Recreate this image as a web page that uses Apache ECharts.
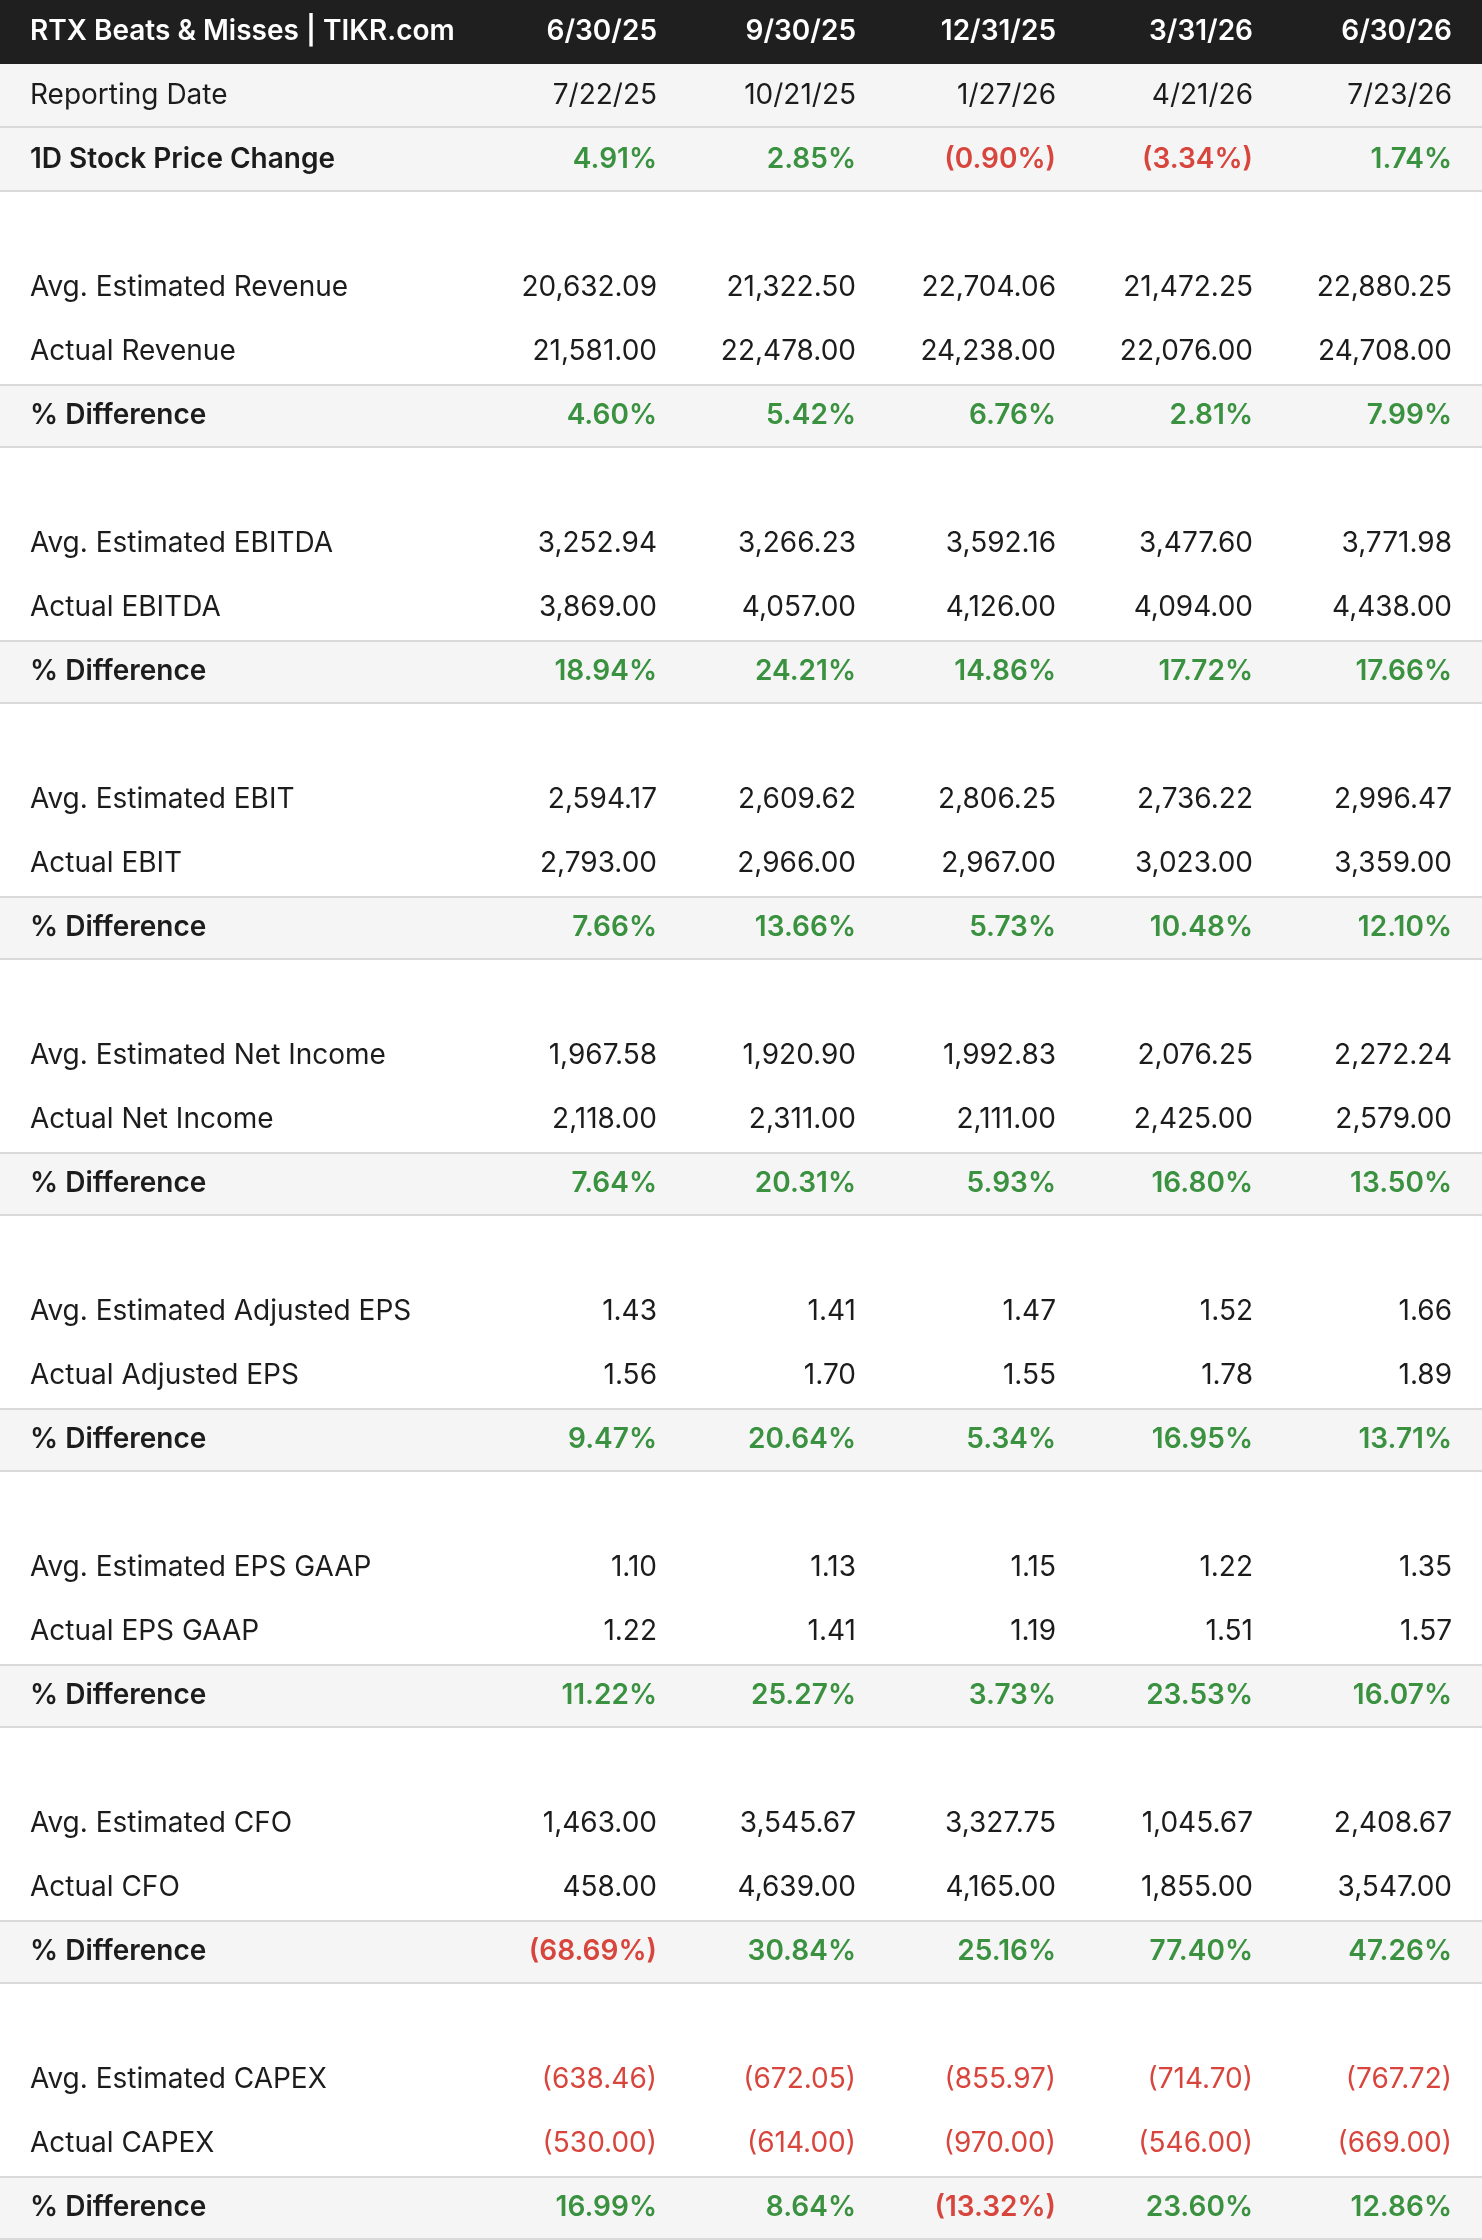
<!DOCTYPE html>
<html><head><meta charset="utf-8">
<script src="https://cdn.jsdelivr.net/npm/echarts@6/dist/echarts.min.js"></script>
<style>html,body{margin:0;padding:0;background:#fff}#c{width:1482px;height:2240px}</style>
</head><body><div id="c"></div>
<script>
const title = 'RTX Beats & Misses | TIKR.com';
const periods = ['6/30/25','9/30/25','12/31/25','3/31/26','6/30/26'];
const reportDates = ['7/22/25','10/21/25','1/27/26','4/21/26','7/23/26'];
const priceChange = [4.91, 2.85, -0.90, -3.34, 1.74];
const metricNames = ['Revenue','EBITDA','EBIT','Net Income','Adjusted EPS','EPS GAAP','CFO','CAPEX'];
const estRevenue = [20632.09, 21322.50, 22704.06, 21472.25, 22880.25];
const actRevenue = [21581.00, 22478.00, 24238.00, 22076.00, 24708.00];
const diffRevenue = [4.60, 5.42, 6.76, 2.81, 7.99];
const estEBITDA = [3252.94, 3266.23, 3592.16, 3477.60, 3771.98];
const actEBITDA = [3869.00, 4057.00, 4126.00, 4094.00, 4438.00];
const diffEBITDA = [18.94, 24.21, 14.86, 17.72, 17.66];
const estEBIT = [2594.17, 2609.62, 2806.25, 2736.22, 2996.47];
const actEBIT = [2793.00, 2966.00, 2967.00, 3023.00, 3359.00];
const diffEBIT = [7.66, 13.66, 5.73, 10.48, 12.10];
const estNetIncome = [1967.58, 1920.90, 1992.83, 2076.25, 2272.24];
const actNetIncome = [2118.00, 2311.00, 2111.00, 2425.00, 2579.00];
const diffNetIncome = [7.64, 20.31, 5.93, 16.80, 13.50];
const estAdjEPS = [1.43, 1.41, 1.47, 1.52, 1.66];
const actAdjEPS = [1.56, 1.70, 1.55, 1.78, 1.89];
const diffAdjEPS = [9.47, 20.64, 5.34, 16.95, 13.71];
const estGaapEPS = [1.10, 1.13, 1.15, 1.22, 1.35];
const actGaapEPS = [1.22, 1.41, 1.19, 1.51, 1.57];
const diffGaapEPS = [11.22, 25.27, 3.73, 23.53, 16.07];
const estCFO = [1463.00, 3545.67, 3327.75, 1045.67, 2408.67];
const actCFO = [458.00, 4639.00, 4165.00, 1855.00, 3547.00];
const diffCFO = [-68.69, 30.84, 25.16, 77.40, 47.26];
const estCAPEX = [-638.46, -672.05, -855.97, -714.70, -767.72];
const actCAPEX = [-530.00, -614.00, -970.00, -546.00, -669.00];
const diffCAPEX = [16.99, 8.64, -13.32, 23.60, 12.86];

const metricSets = [
  [estRevenue, actRevenue, diffRevenue], [estEBITDA, actEBITDA, diffEBITDA],
  [estEBIT, actEBIT, diffEBIT], [estNetIncome, actNetIncome, diffNetIncome],
  [estAdjEPS, actAdjEPS, diffAdjEPS], [estGaapEPS, actGaapEPS, diffGaapEPS],
  [estCFO, actCFO, diffCFO], [estCAPEX, actCAPEX, diffCAPEX]
];

const GREEN = '#3a913f', RED = '#d8453d', INK = '#1c1c1c';
function fmtNum(v){ const s = Math.abs(v).toLocaleString('en-US',{minimumFractionDigits:2,maximumFractionDigits:2}); return v<0?'('+s+')':s; }
function fmtPct(v){ const s = Math.abs(v).toFixed(2)+'%'; return v<0?'('+s+')':s; }

// Build rows: kind = header | gray | plain | blank
const rows = [];
rows.push({kind:'header', label:title, cells:periods.map(p=>({t:p,c:'#fff'})), bold:true});
rows.push({kind:'gray', label:'Reporting Date', cells:reportDates.map(d=>({t:d,c:INK})), bold:false});
rows.push({kind:'gray', label:'1D Stock Price Change', cells:priceChange.map(v=>({t:fmtPct(v),c:v<0?RED:GREEN})), bold:true});
metricNames.forEach((n,i)=>{
  const [e,a,d] = metricSets[i];
  rows.push({kind:'blank', label:'', cells:[], bold:false});
  rows.push({kind:'plain', label:'Avg. Estimated '+n, cells:e.map(v=>({t:fmtNum(v),c:v<0?RED:INK})), bold:false});
  rows.push({kind:'plain', label:'Actual '+n, cells:a.map(v=>({t:fmtNum(v),c:v<0?RED:INK})), bold:false});
  rows.push({kind:'gray', label:'% Difference', cells:d.map(v=>({t:fmtPct(v),c:v<0?RED:GREEN})), bold:true});
});

// layout constants (not data)
const LABEL_X = 30, COL_X = [657, 856, 1056, 1253, 1452];
const rowCats = rows.map((r,i)=>'r'+i);
const bgData = rows.map((r,i)=>[i]);
const textData = [];
rows.forEach((r,i)=>{
  if(r.label) textData.push({value:[LABEL_X, i], t:r.label, c:r.kind==='header'?'#fff':INK, b:r.bold, a:'left'});
  r.cells.forEach((c,j)=>textData.push({value:[COL_X[j], i], t:c.t, c:c.c, b:r.bold, a:'right'}));
});

const FONT = 'Inter, "Noto Sans", sans-serif';
const chart = echarts.init(document.getElementById('c'));
chart.setOption({
  animation:false,
  grid:{left:0,right:0,top:0,bottom:0},
  xAxis:{type:'value',min:0,max:1482,show:false},
  yAxis:{type:'category',data:rowCats,inverse:true,show:false},
  series:[
    {type:'custom', data:bgData, encode:{y:0}, renderItem:function(params, api){
      const i = api.value(0); const r = rows[i];
      const top = api.coord([0,i]); const h = api.size([0,1])[1];
      const y0 = top[1]-h/2, w = params.coordSys.width;
      const ch = [];
      if(r.kind==='header') ch.push({type:'rect',shape:{x:0,y:y0,width:w,height:h},style:{fill:'#1f1f1f'}});
      else if(r.kind==='gray'){
        ch.push({type:'rect',shape:{x:0,y:y0,width:w,height:h},style:{fill:'#f5f5f5'}});
        ch.push({type:'line',shape:{x1:0,y1:y0+h-1,x2:w,y2:y0+h-1},style:{stroke:'#d9d9d9',lineWidth:2}});
        if(rows[i-1] && rows[i-1].kind!=='gray' && rows[i-1].kind!=='header')
          ch.push({type:'line',shape:{x1:0,y1:y0+1,x2:w,y2:y0+1},style:{stroke:'#d9d9d9',lineWidth:2}});
      }
      return {type:'group',children:ch};
    }},
    {type:'custom', data:textData, encode:{x:0,y:1}, renderItem:function(params, api){
      const d = textData[params.dataIndex];
      const p = api.coord([api.value(0), api.value(1)]);
      return {type:'text', x:p[0], y:p[1], style:{text:d.t, fill:d.c, font:(d.b?'600 ':'400 ')+'28px '+FONT, textAlign:d.a, textVerticalAlign:'middle'}};
    }}
  ]
});
</script></body></html>
